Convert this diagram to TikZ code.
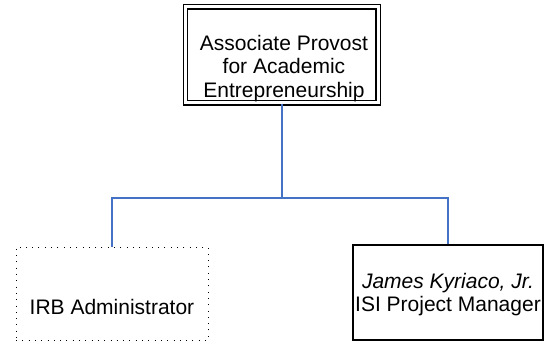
\documentclass[tikz,border=0pt]{standalone}
\usepackage{fontspec}
\setmainfont{Liberation Sans}
\definecolor{connblue}{HTML}{4472C4}
\begin{document}
\begin{tikzpicture}[x=1pt,y=-1pt,
  boxtext/.style={inner sep=0pt,anchor=north,align=center,font=\fontsize{21}{23.5}\selectfont},
  conn/.style={draw=connblue,line width=1.8pt},
  dblbox/.style={draw,double,double distance=3pt,line width=1.2pt,inner sep=0pt},
  solidbox/.style={draw,line width=1.3pt,inner sep=0pt},
  dotbox/.style={draw,line width=1pt,dash pattern=on 1pt off 5.3pt,inner sep=0pt}]
\useasboundingbox (0,0) rectangle (544,342);
\node[dblbox,minimum width=192.5pt,minimum height=96pt] (top) at (281.75,55) {};
\node[boxtext] (toplabel) at (284,35) {Associate Provost\\for Academic\\Entrepreneurship};
\node[dotbox,minimum width=192pt,minimum height=93pt] (irb) at (112,293.5) {};
\node[boxtext] (irblabel) at (112,299) {IRB Administrator};
\node[solidbox,minimum width=190pt,minimum height=95pt] (isi) at (448,292.5) {};
\node[boxtext] (isilabel) at (448,273) {\textit{James Kyriaco, Jr.}\\ISI Project Manager};
\coordinate (bus) at (281.75,198);
\draw[conn] (top.south) -- (bus) -| (irb.north);
\draw[conn] (bus) -| (isi.north);
\end{tikzpicture}
\end{document}
